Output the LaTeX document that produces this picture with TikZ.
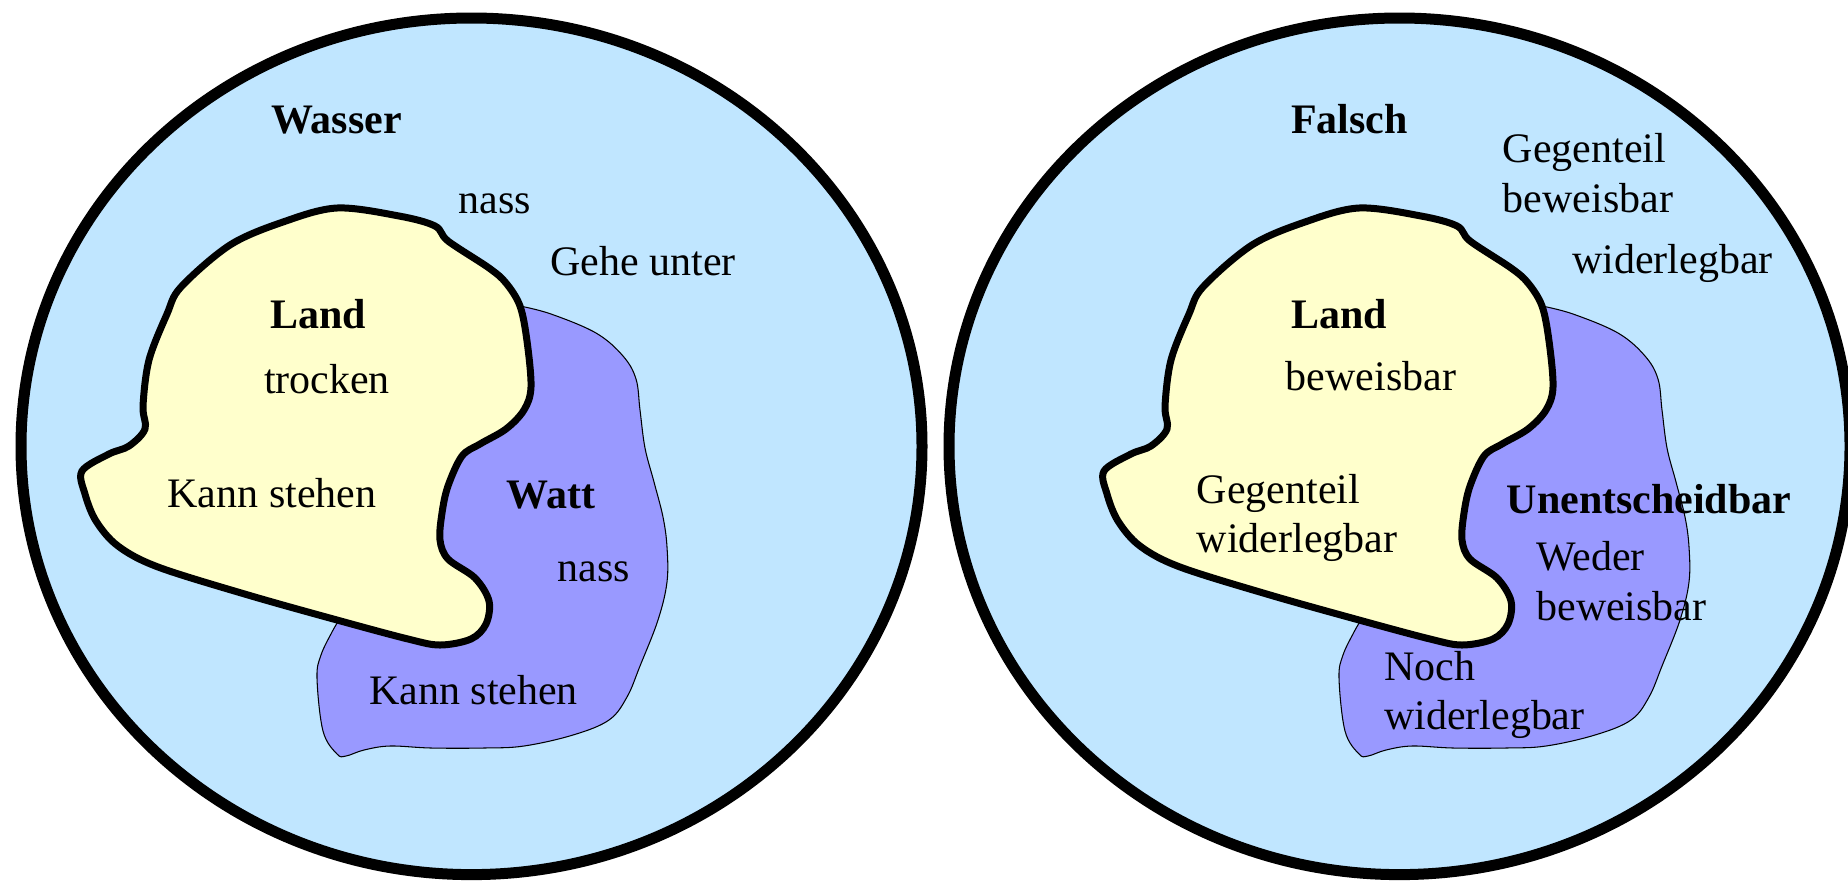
\documentclass[tikz,border=0pt]{standalone}
\usepackage{fontspec}
\setmainfont{Liberation Serif}
\usetikzlibrary{positioning}
\definecolor{meer}{HTML}{C0E6FF}
\definecolor{sand}{HTML}{FFFFCC}
\definecolor{schlick}{HTML}{9999FF}
\tikzset{
  welt/.style={draw=black, line width=0.22cm, fill=meer},
  land/.style={draw=black, line width=0.14cm, fill=sand},
  watt/.style={draw=black, line width=0.6pt, fill=schlick},
  txt/.style={inner sep=0pt, anchor=base, font=\fontsize{23.9}{27.9}\selectfont},
  hd/.style={txt, font=\fontsize{23.9}{27.9}\selectfont\bfseries},
  txtl/.style={txt, anchor=base west, align=left}
}
% Umrisse von Land und Watt (Pixelkoordinaten)
\newcommand{\wattumriss}{
  plot[smooth, tension=0.6] coordinates {(520,306) (551,314) (596,333) (623,356) (636,379)
    (640,410) (645,448) (654,482) (663,517) (667,547) (667,582) (658,620) (640,666)
    (627,697) (609,720) (573,735) (524,746) (484,748) (431,748) (390,746) (364,750)
    (346,756) (337,754) (323,731) (317,678) (321,655) (332,632) (339,620)} -- cycle}
\newcommand{\landumriss}{
  plot[smooth cycle, tension=0.55] coordinates {(82,471) (109,454) (129,446) (145,429)
    (143,406) (149,360) (167,314) (181,287) (230,245) (283,222) (337,208) (399,216)
    (435,226) (448,241) (489,268) (506,283) (520,306) (527,341) (531,387) (524,410)
    (506,429) (480,444) (462,456) (448,486) (442,513) (440,540) (448,559) (475,578)
    (489,601) (486,624) (471,639) (440,645) (408,639) (337,620) (248,595) (158,567)
    (118,546) (96,521) (85,494)}}

\begin{document}
\begin{tikzpicture}[x=0.02cm, y=-0.02cm]
	\useasboundingbox (0,0) rectangle (1848,880);
	% linke Seite: Wasser
	\draw[welt] (471.5,446.3) ellipse [x radius=450.5, y radius=428.3];
	\draw[watt] \wattumriss;
	\draw[land] \landumriss;
	\node[hd] (wasser) at (336.5,133.5) {Wasser};
	\node[txt] (nassw) at (494.6,213) {nass};
	\node[txt] (gehe) at (643,275) {Gehe unter};
	\node[hd] (landl) at (318,328) {Land};
	\node[txt] (trocken) at (327,393) {trocken};
	\node[txt] (kannl) at (272,507) {Kann stehen};
	\node[hd] (watt) at (551,508) {Watt};
	\node[txt] (nasst) at (594,581) {nass};
	\node[txt] (kannt) at (473.6,704) {Kann stehen};
	%
	% rechte Seite: Falsch
	\draw[welt] (1399.5,446.3) ellipse [x radius=450.5, y radius=428.3];
	\begin{scope}[shift={(1022,0)}]
		\draw[watt] \wattumriss;
		\draw[land] \landumriss;
	\end{scope}
	\node[hd] (falsch) at (1349.5,133.6) {Falsch};
	\node[txtl] (gegbew) at (1502.6,212) {Gegenteil\\beweisbar};
	\node[txt] (widr) at (1672.6,273.8) {widerlegbar};
	\node[hd] (landr) at (1339,328) {Land};
	\node[txt] (bewr) at (1371,390) {beweisbar};
	\node[txtl] (gegwid) at (1196.4,552.7) {Gegenteil\\widerlegbar};
	\node[hd] (unent) at (1649,513.5) {Unentscheidbar};
	\node[txtl] (weder) at (1536,620) {Weder\\beweisbar};
	\node[txtl] (noch) at (1383.7,729.5) {Noch\\widerlegbar};
\end{tikzpicture}
\end{document}
